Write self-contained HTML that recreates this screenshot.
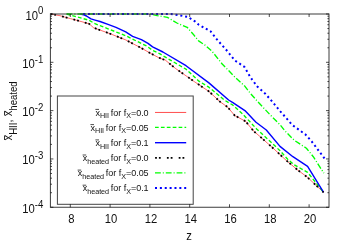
<!DOCTYPE html>
<html><head><meta charset="utf-8"><title>plot</title>
<style>
html,body{margin:0;padding:0;background:#fff;}
svg{display:block;will-change:transform;font-family:"Liberation Sans",sans-serif;}
</style></head>
<body>
<svg width="350" height="245" viewBox="0 0 350 245">
<rect width="350" height="245" fill="#fff"/>
<g fill="none" stroke-linejoin="round">
<polyline stroke="#ff0000" stroke-width="0.6" points="50.5,14.0 60.0,15.7 70.3,18.6 78.9,20.9 89.2,23.8 93.5,27.7 100.0,30.1 108.0,32.9 125.7,39.9 141.4,48.1 150.0,53.0 158.6,57.6 165.4,60.2 175.7,68.6 186.0,75.8 194.6,81.8 208.9,91.4 220.0,101.7 227.7,107.2 234.6,115.4 245.7,121.4 253.4,130.9 259.4,136.0 274.0,149.0 286.0,160.2 297.3,169.7 307.6,177.4 323.6,192.4"/>
<polyline stroke="#00ff00" stroke-width="1.35" stroke-dasharray="3.7 2.2" points="66.6,14.0 78.9,17.4 89.2,20.3 94.3,23.4 100.0,25.6 108.0,28.8 125.7,35.7 141.4,43.5 146.9,46.2 152.6,50.3 160.0,53.9 165.4,57.2 186.0,69.2 198.9,81.2 208.9,87.2 224.3,100.0 232.9,105.2 242.3,113.7 256.9,129.2 267.2,138.7 280.0,150.7 287.7,159.3 293.9,164.6 307.6,172.3 323.6,192.4"/>
<polyline stroke="#0000ff" stroke-width="1.4" points="80.3,14.0 83.5,14.7 86.5,16.0 91.0,18.9 95.0,20.1 100.0,21.5 108.0,24.3 116.0,27.3 125.7,31.9 132.6,36.4 141.4,39.7 148.0,43.4 152.6,46.9 162.9,52.0 186.0,65.7 208.9,82.9 228.6,100.0 232.9,102.6 244.9,110.6 256.0,122.3 266.3,130.0 280.0,146.4 292.9,156.7 307.6,166.3 323.6,192.4"/>
<polyline stroke="#000000" stroke-width="1.8" stroke-dasharray="1.8 2 1.8 6.2" points="50.5,14.0 60.0,15.7 70.3,18.6 78.9,20.9 89.2,23.8 93.5,27.7 100.0,30.1 108.0,32.9 125.7,39.9 141.4,48.1 150.0,53.0 158.6,57.6 165.4,60.2 175.7,68.6 186.0,75.8 194.6,81.8 208.9,91.4 220.0,101.7 227.7,107.2 234.6,115.4 245.7,121.4 253.4,130.9 259.4,136.0 274.0,149.0 286.0,160.2 297.3,169.7 307.6,177.4 323.6,192.4"/>
<polyline stroke="#00ff00" stroke-width="1.35" stroke-dasharray="5.8 2 1 2" points="66.6,14.0 150.3,14.0 157.2,15.6 167.4,17.3 176.9,23.0 187.2,27.3 193.2,34.2 198.6,40.9 205.0,45.1 211.9,51.1 222.2,64.0 235.0,77.2 244.4,85.7 250.4,93.4 257.3,101.2 270.0,114.7 280.3,125.0 285.0,131.0 294.4,140.4 306.4,148.2 313.3,156.7 319.3,166.2 323.9,173.2"/>
<polyline stroke="#0000ff" stroke-width="2" stroke-dasharray="2 2.87" points="324.5,158.4 311.6,141.3 305.6,134.6 292.3,125.0 280.3,111.3 271.8,101.1 265.0,93.4 257.3,86.6 250.4,77.2 244.4,66.8 235.0,60.6 227.3,51.1 217.4,40.0 210.6,31.4 198.6,24.6 194.9,21.3 188.0,17.0 179.5,15.3 170.9,14.0 80.3,14.0"/>
</g>
<g id="legend">
<rect x="57.4" y="96" width="135.8" height="108.3" fill="none" stroke="#444" stroke-width="1"/>
<g fill="#111">
<text x="148.6" y="115.5" text-anchor="end" font-size="9" letter-spacing="-0.03">x<tspan font-size="7.2" dy="2.7">HII</tspan><tspan dy="-2.7" dx="-0.7"> for f</tspan><tspan font-size="7.2" dy="2.7">X</tspan><tspan dy="-2.7">=0.0</tspan></text>
<text x="148.6" y="130.7" text-anchor="end" font-size="9" letter-spacing="-0.03">x<tspan font-size="7.2" dy="2.7">HII</tspan><tspan dy="-2.7" dx="-0.7"> for f</tspan><tspan font-size="7.2" dy="2.7">X</tspan><tspan dy="-2.7">=0.05</tspan></text>
<text x="148.6" y="146.0" text-anchor="end" font-size="9" letter-spacing="-0.03">x<tspan font-size="7.2" dy="2.7">HII</tspan><tspan dy="-2.7" dx="-0.7"> for f</tspan><tspan font-size="7.2" dy="2.7">X</tspan><tspan dy="-2.7">=0.1</tspan></text>
<text x="148.6" y="161.1" text-anchor="end" font-size="9" letter-spacing="-0.03">x<tspan font-size="7.2" dy="2.7">heated</tspan><tspan dy="-2.7" dx="-0.7"> for f</tspan><tspan font-size="7.2" dy="2.7">X</tspan><tspan dy="-2.7">=0.0</tspan></text>
<text x="148.6" y="176.2" text-anchor="end" font-size="9" letter-spacing="-0.03">x<tspan font-size="7.2" dy="2.7">heated</tspan><tspan dy="-2.7" dx="-0.7"> for f</tspan><tspan font-size="7.2" dy="2.7">X</tspan><tspan dy="-2.7">=0.05</tspan></text>
<text x="148.6" y="191.3" text-anchor="end" font-size="9" letter-spacing="-0.03">x<tspan font-size="7.2" dy="2.7">heated</tspan><tspan dy="-2.7" dx="-0.7"> for f</tspan><tspan font-size="7.2" dy="2.7">X</tspan><tspan dy="-2.7">=0.1</tspan></text>
</g>
<g fill="none" stroke="#000" stroke-width="0.7">
<path d="M95.4 109.4h3.6"/>
<path d="M90.4 124.6h3.6"/>
<path d="M95.4 139.9h3.6"/>
<path d="M82.6 155.0h3.6"/>
<path d="M77.6 170.1h3.6"/>
<path d="M82.6 185.2h3.6"/>
</g>
<g fill="none">
<path stroke="#ff0000" stroke-width="0.7" d="M155 112.45H186.2"/>
<path stroke="#00ff00" stroke-width="1.35" stroke-dasharray="3.7 2.2" d="M155 127.4H186.2"/>
<path stroke="#0000ff" stroke-width="1.4" d="M155 142.7H186.2"/>
<path stroke="#000" stroke-width="1.8" stroke-dasharray="1.8 2 1.8 6.2" d="M155.1 157.8H186.2"/>
<path stroke="#00ff00" stroke-width="1.35" stroke-dasharray="5.8 2 1 2" d="M155 172.9H186.2"/>
<path stroke="#0000ff" stroke-width="2" stroke-dasharray="2 2.87" d="M155 188.0H186.2"/>
</g>
</g>
<g stroke="#3c3c3c" stroke-width="1" fill="none">
<rect x="50.4" y="14.0" width="278.6" height="193.25"/>
</g>
<g stroke="#000" stroke-width="0.7" fill="none">
<path d="M50.4 14.00h3M329.0 14.00h-3"/>
<path d="M50.4 62.31h3M329.0 62.31h-3"/>
<path d="M50.4 110.62h3M329.0 110.62h-3"/>
<path d="M50.4 158.94h3M329.0 158.94h-3"/>
<path d="M50.4 207.25h3M329.0 207.25h-3"/>
<path d="M50.4 47.77h1.6M329.0 47.77h-1.6"/>
<path d="M50.4 39.26h1.6M329.0 39.26h-1.6"/>
<path d="M50.4 33.23h1.6M329.0 33.23h-1.6"/>
<path d="M50.4 28.54h1.6M329.0 28.54h-1.6"/>
<path d="M50.4 24.72h1.6M329.0 24.72h-1.6"/>
<path d="M50.4 21.48h1.6M329.0 21.48h-1.6"/>
<path d="M50.4 18.68h1.6M329.0 18.68h-1.6"/>
<path d="M50.4 16.21h1.6M329.0 16.21h-1.6"/>
<path d="M50.4 96.08h1.6M329.0 96.08h-1.6"/>
<path d="M50.4 87.57h1.6M329.0 87.57h-1.6"/>
<path d="M50.4 81.54h1.6M329.0 81.54h-1.6"/>
<path d="M50.4 76.86h1.6M329.0 76.86h-1.6"/>
<path d="M50.4 73.03h1.6M329.0 73.03h-1.6"/>
<path d="M50.4 69.80h1.6M329.0 69.80h-1.6"/>
<path d="M50.4 66.99h1.6M329.0 66.99h-1.6"/>
<path d="M50.4 64.52h1.6M329.0 64.52h-1.6"/>
<path d="M50.4 144.39h1.6M329.0 144.39h-1.6"/>
<path d="M50.4 135.89h1.6M329.0 135.89h-1.6"/>
<path d="M50.4 129.85h1.6M329.0 129.85h-1.6"/>
<path d="M50.4 125.17h1.6M329.0 125.17h-1.6"/>
<path d="M50.4 121.34h1.6M329.0 121.34h-1.6"/>
<path d="M50.4 118.11h1.6M329.0 118.11h-1.6"/>
<path d="M50.4 115.31h1.6M329.0 115.31h-1.6"/>
<path d="M50.4 112.84h1.6M329.0 112.84h-1.6"/>
<path d="M50.4 192.71h1.6M329.0 192.71h-1.6"/>
<path d="M50.4 184.20h1.6M329.0 184.20h-1.6"/>
<path d="M50.4 178.16h1.6M329.0 178.16h-1.6"/>
<path d="M50.4 173.48h1.6M329.0 173.48h-1.6"/>
<path d="M50.4 169.66h1.6M329.0 169.66h-1.6"/>
<path d="M50.4 166.42h1.6M329.0 166.42h-1.6"/>
<path d="M50.4 163.62h1.6M329.0 163.62h-1.6"/>
<path d="M50.4 161.15h1.6M329.0 161.15h-1.6"/>
<path d="M70.30 207.25v-3M70.30 14.0v3"/>
<path d="M110.10 207.25v-3M110.10 14.0v3"/>
<path d="M149.90 207.25v-3M149.90 14.0v3"/>
<path d="M189.70 207.25v-3M189.70 14.0v3"/>
<path d="M229.50 207.25v-3M229.50 14.0v3"/>
<path d="M269.30 207.25v-3M269.30 14.0v3"/>
<path d="M309.10 207.25v-3M309.10 14.0v3"/>
</g>
<g fill="#111" font-size="12.2">
<text transform="translate(71.3,222.8) scale(0.925,1)" text-anchor="middle">8</text>
<text transform="translate(111.1,222.8) scale(0.925,1)" text-anchor="middle">10</text>
<text transform="translate(150.9,222.8) scale(0.925,1)" text-anchor="middle">12</text>
<text transform="translate(190.7,222.8) scale(0.925,1)" text-anchor="middle">14</text>
<text transform="translate(230.5,222.8) scale(0.925,1)" text-anchor="middle">16</text>
<text transform="translate(270.3,222.8) scale(0.925,1)" text-anchor="middle">18</text>
<text transform="translate(310.1,222.8) scale(0.925,1)" text-anchor="middle">20</text>
<text transform="translate(43.4,19.5) scale(0.925,1)" text-anchor="end">10<tspan font-size="10.4" dy="-5.3">0</tspan></text>
<text transform="translate(43.4,67.8) scale(0.925,1)" text-anchor="end">10<tspan font-size="10.4" dy="-5.3">-1</tspan></text>
<text transform="translate(43.4,116.1) scale(0.925,1)" text-anchor="end">10<tspan font-size="10.4" dy="-5.3">-2</tspan></text>
<text transform="translate(43.4,164.4) scale(0.925,1)" text-anchor="end">10<tspan font-size="10.4" dy="-5.3">-3</tspan></text>
<text transform="translate(43.4,212.8) scale(0.925,1)" text-anchor="end">10<tspan font-size="10.4" dy="-5.3">-4</tspan></text>
<text transform="translate(189.0,240.4) scale(0.925,1)" text-anchor="middle">z</text>
<text transform="translate(12.2,140.5) rotate(-90) scale(0.925,1)">x<tspan font-size="10.4" dy="5.0">HII</tspan><tspan dy="-5.0">, x</tspan><tspan font-size="10.4" dy="5.0">heated</tspan></text>
<path stroke="#000" stroke-width="0.8" fill="none" d="M4.5 140.0v-4.6M4.5 115.5v-4.6"/>
</g>
</svg>
</body></html>
